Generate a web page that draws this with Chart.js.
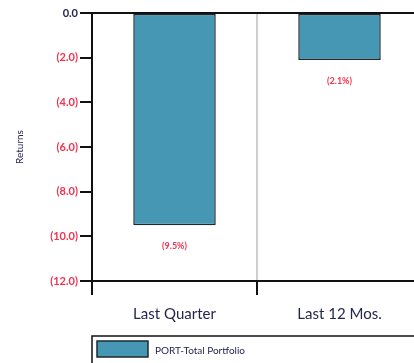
<!DOCTYPE html>
<html>
<head>
<meta charset="utf-8">
<script src="https://cdn.jsdelivr.net/npm/chart.js@4"></script>
<style>
    html, body { margin: 0; padding: 0; background: #fff; overflow: hidden; width: 414px; height: 363px; }
    #wrap { position: absolute; left: 0; top: 0; width: 440px; height: 363px; }
</style>
</head>
<body>
<div id="wrap"><canvas id="returnsChart" width="440" height="363"></canvas></div>
<script>
// Chart data
const categories = ['Last Quarter', 'Last 12 Mos.'];
const portfolioReturns = [-9.5, -2.1];
const seriesName = 'PORT-Total Portfolio';
const yTicks = [0, -2, -4, -6, -8, -10, -12];

const FONT = 'Lato, "Open Sans", sans-serif';
const RED = '#f2324f';
const NAVY = '#24264f';
const BAR = '#4597b4';

function fmtTick(v) {
    if (v === 0) return '0.0';
    return '(' + Math.abs(v).toFixed(1) + ')';
}

// value labels under each bar, top frame line and legend box
const extrasPlugin = {
    id: 'extras',
    afterDatasetsDraw(chart) {
        const ctx = chart.ctx;
        const meta = chart.getDatasetMeta(0);
        ctx.save();
        ctx.font = 'bold 9px ' + FONT;
        ctx.fillStyle = RED;
        ctx.textAlign = 'center';
        ctx.textBaseline = 'middle';
        meta.data.forEach((bar, i) => {
            const v = portfolioReturns[i];
            ctx.fillText('(' + Math.abs(v).toFixed(1) + '%)', bar.x, bar.y + 21);
        });
        ctx.restore();
    },
    afterDraw(chart) {
        const ctx = chart.ctx;
        const area = chart.chartArea;
        ctx.save();
        // top line at 0.0
        ctx.strokeStyle = '#111';
        ctx.lineWidth = 2;
        ctx.beginPath();
        ctx.moveTo(area.left - 12, area.top);
        ctx.lineTo(chart.width, area.top);
        ctx.stroke();

        // legend box
        ctx.lineWidth = 1.5;
        ctx.strokeRect(area.left, 336, chart.width, 60);
        ctx.fillStyle = BAR;
        ctx.fillRect(97, 341, 51, 16);
        ctx.strokeStyle = '#1c2a30';
        ctx.strokeRect(97, 341, 51, 16);
        ctx.fillStyle = NAVY;
        ctx.font = '10px ' + FONT;
        ctx.textAlign = 'left';
        ctx.textBaseline = 'middle';
        ctx.fillText(seriesName, 155, 351);
        ctx.restore();
    }
};

new Chart(document.getElementById('returnsChart'), {
    type: 'bar',
    data: {
        labels: categories,
        datasets: [{
            label: seriesName,
            data: portfolioReturns,
            backgroundColor: BAR,
            borderColor: '#1c2a30',
            borderWidth: 1.5,
            borderSkipped: false,
            categoryPercentage: 1,
            barPercentage: 0.5
        }]
    },
    options: {
        responsive: false,
        animation: false,
        layout: { padding: { top: 13, bottom: 32, left: 0, right: 18 } },
        plugins: {
            legend: { display: false },
            tooltip: { enabled: false }
        },
        scales: {
            x: {
                afterFit: (scale) => { scale.height = 50; },
                border: { color: '#111', width: 2 },
                grid: {
                    offset: true,
                    color: (c) => c.index === 0 ? '#111' : '#cfcfcf',
                    lineWidth: 2,
                    tickColor: '#111',
                    tickLength: 14
                },
                ticks: {
                    color: NAVY,
                    font: { family: FONT, size: 15 },
                    padding: 10
                }
            },
            y: {
                min: -12,
                max: 0,
                afterFit: (scale) => { scale.width = 92; },
                afterBuildTicks: (scale) => {
                    scale.ticks = yTicks.map(v => ({ value: v }));
                },
                border: { color: '#111', width: 2 },
                grid: {
                    drawOnChartArea: false,
                    color: '#111',
                    lineWidth: 2,
                    tickLength: 12
                },
                ticks: {
                    callback: (v) => fmtTick(v),
                    color: (c) => c.tick.value === 0 ? NAVY : RED,
                    font: { family: FONT, size: 11, weight: 'bold' },
                    padding: 2
                },
                title: {
                    display: true,
                    text: 'Returns',
                    color: NAVY,
                    font: { family: FONT, size: 10 },
                    padding: { top: 14, bottom: 0 }
                }
            }
        }
    },
    plugins: [extrasPlugin]
});
</script>
</body>
</html>
